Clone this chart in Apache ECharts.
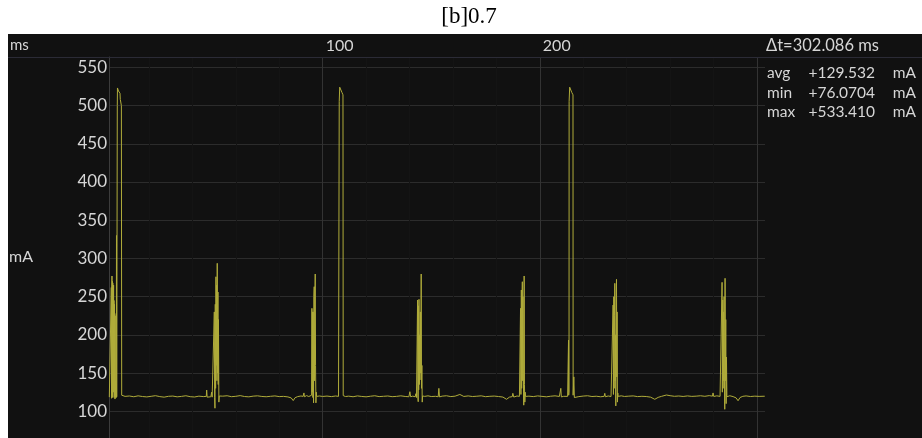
<!DOCTYPE html>
<html>
<head>
<meta charset="utf-8">
<script src="https://cdn.jsdelivr.net/npm/echarts@6/dist/echarts.min.js"></script>
<style>html,body{margin:0;padding:0;background:#fff}#c{width:922px;height:438px}</style>
</head>
<body>
<div id="c"></div>
<script>
// ---- data (time in ms, current in mA) ----
const burst0 = [[1.75,118.5],[2.29,117],[2.52,120],[2.66,262],[2.75,117],[2.84,250],[2.98,277],[3.08,122],[3.17,270],[3.26,118],[3.35,268],[3.44,150],[3.53,260],[3.62,125],[3.72,265],[3.81,130],[3.90,245],[3.99,118],[4.08,240],[4.17,121],[4.27,228],[4.36,116],[4.45,225],[4.55,118],[4.64,140],[4.73,120],[4.82,135],[4.95,118],[5.05,330],[5.15,119],[5.30,120],[5.42,500],[5.50,523],[5.97,519],[6.66,516],[6.80,508],[7.30,500],[7.45,121],[7.70,120]];
const base1 = [[9,119.5],[11,120],[13,119],[15,120.2],[17,119.3],[19,118.8],[21,119.6],[23,120.4],[25,119.2],[27,118.5],[29,119.6],[31,119.9],[33,118.9],[35,119.5],[37,120.3],[39,119.1],[41,118.7],[43,119.8],[45,119.2],[46.4,119.5],[46.58,127.8],[46.8,118.5],[47.5,119.5],[48.5,119],[48.88,125],[49.1,118.5],[49.6,120]];
const burst1 = [[49.94,121],[50.1,230],[50.25,118],[50.4,104],[50.55,240],[50.7,130],[50.86,276],[51.0,160],[51.18,265],[51.3,140],[51.45,293.6],[51.6,150],[51.78,256],[51.9,135],[52.01,220],[52.2,112],[52.38,120],[52.8,119]];
const base2 = [[54,119.8],[56,120.3],[58,119.1],[60,119.6],[62,120.5],[64,119.3],[66,118.9],[68,119.8],[70,120.2],[72,119.4],[74,119.0],[76,119.6],[78,120.1],[80,119.2],[82,119.5],[84,118.8],[85.5,117.5],[86.44,114],[87.3,117.8],[88.5,119.2],[90,120.0],[91.0,119.5],[91.37,124],[91.6,119],[92.6,120.5],[93.6,119.3],[94.4,120]];
const burst2 = [[94.91,121],[95.05,234.7],[95.19,125],[95.35,230],[95.5,118],[95.65,230],[95.8,111],[95.95,250],[96.11,263],[96.25,140],[96.4,240],[96.57,279.6],[96.72,160],[96.89,111],[97.05,125],[97.21,119.5]];
const base3 = [[98.5,120],[100,119.4],[102,119.9],[104,119.2],[106,120.0],[107.3,119.5]];
const pulse1 = [[107.55,120],[107.62,505],[107.85,524],[108.9,517],[109.35,514],[109.46,120.5]];
const base4 = [[110.5,119.3],[112,119.8],[114,119.0],[116,120.1],[118,119.4],[120,118.9],[122,119.7],[124,120.3],[126,119.2],[128,119.6],[130,120.0],[132,119.1],[134,119.5],[136,120.2],[138,119.4],[139.7,119],[140.16,125.6],[140.5,119],[141.5,119.8],[142.6,119],[142.92,123],[143.2,118],[143.5,119.5]];
const burst3 = [[143.71,245.6],[143.85,120],[144.0,112.5],[144.08,238],[144.22,128],[144.36,246.5],[144.5,135],[144.65,200],[144.8,141],[145.0,230],[145.2,150],[145.37,279.6],[145.5,130],[145.69,160],[145.85,112],[146.01,120]];
const base5 = [[147,119.5],[148.5,120.2],[150,119.3],[152,119.6],[153.2,119],[153.51,130],[153.8,118.8],[155,119.8],[157,120.3],[159,119.2],[161,119.8],[163.18,122],[165,119.4],[167,120.1],[169,119.3],[171,119.7],[173,120.2],[175,119.1],[177,119.6],[179,119.9],[181,119.3],[183,118.6],[184.68,115.7],[186,118.5],[187.3,119.2],[187.58,123.5],[188,118.6],[189.5,120],[190.6,119.5]];
const burst4 = [[190.9,121],[191.12,234.7],[191.3,122],[191.49,258.7],[191.65,130],[191.8,240],[191.95,269.5],[192.1,140],[192.25,250],[192.4,150],[192.6,108],[192.78,277],[192.92,135],[193.1,112],[193.25,125],[193.42,119.5]];
const base6 = [[195,119.8],[197,119.2],[199,120.1],[201,119.5],[203,118.9],[205,119.7],[207,120.2],[209,119.4],[209.4,119],[209.67,130],[209.9,118.8],[211,119.6],[212.8,119.5]];
const pulse2 = [[213.1,120],[213.22,193],[213.3,121],[213.45,125],[213.49,505],[213.75,524],[214.74,517],[215.28,514],[215.34,121],[215.66,145],[215.9,118],[216.5,119.6]];
const base7 = [[218,119.2],[220,119.9],[222,120.3],[224,119.3],[226,119.7],[228,119.0],[229.6,119.5],[229.93,123.5],[230.2,119],[231.5,120],[232.8,119.3],[233.4,121],[233.6,120]];
const burst5 = [[233.75,239],[233.9,122],[234.07,250],[234.22,130],[234.38,225],[234.53,267.4],[234.7,140],[234.85,200],[234.99,107],[235.15,250],[235.31,272.6],[235.45,145],[235.59,230],[235.75,112],[235.9,124],[236.05,119.5]];
const base8 = [[237.5,120.2],[239,119.4],[241,119.8],[243,120.1],[245,119.2],[247,119.6],[249,119.3],[251,118.5],[252.95,115.7],[254.5,118.2],[256,119.5],[258.33,121.3],[260,120.4],[262,119.6],[264,120.0],[266,119.4],[268,120.1],[270,119.5],[272,119.8],[274,120.3],[276,119.6],[278,120.5],[279.5,119.8],[279.78,124],[280.1,119.4],[281.5,120.2],[283,119.5],[283.6,121],[283.8,120]];
const burst6 = [[283.93,268.7],[284.05,125],[284.25,245.6],[284.4,130],[284.55,230],[284.71,140],[284.85,250],[285.0,150],[285.17,102.6],[285.31,274],[285.45,140],[285.63,220],[285.8,110],[285.95,171],[286.15,119]];
const base9 = [[287.5,120.3],[289,119.2],[290.4,117.5],[291.29,113.8],[292.2,118],[293.5,119.6],[295,120.1],[297,119.3],[299,119.8],[301,119.5],[303.58,119.7]];

const xTickLabels = [100, 200];
const yTickLabels = [100, 150, 200, 250, 300, 350, 400, 450, 500, 550];
const statNames = ['avg', 'min', 'max'];
const statValues = ['+129.532', '+76.0704', '+533.410'];
const statUnit = 'mA';
const deltaT = 'Δt=302.086 ms';
const titleText = '[b]0.7';

const trace = [].concat(burst0, base1, burst1, base2, burst2, base3, pulse1, base4, burst3,
  base5, burst4, base6, pulse2, base7, burst5, base8, burst6, base9);

const chart = echarts.init(document.getElementById('c'), null, {renderer: 'canvas'});
const font = 'Lato';
const txtColor = '#d6d6d6';

const graphics = [
  {type: 'rect', x: 8, y: 34, shape: {width: 914, height: 404}, style: {fill: '#111111'}, z: -100, silent: true},
  {type: 'line', shape: {x1: 8, y1: 57.5, x2: 922, y2: 57.5}, style: {stroke: '#2b2b36', lineWidth: 1}, z: 10, silent: true},
  {type: 'text', x: 469, y: 17, style: {text: titleText, font: '23px "Liberation Serif"', fill: '#000', align: 'center', verticalAlign: 'middle'}, z: 10},
  {type: 'text', x: 10, y: 45, style: {text: 'ms', font: '15px Lato', fill: txtColor, align: 'left', verticalAlign: 'middle'}, z: 10},
  {type: 'text', x: 766, y: 45.5, style: {text: deltaT, font: '16.5px Lato', fill: txtColor, align: 'left', verticalAlign: 'middle'}, z: 10}
];
statNames.forEach((n, i) => {
  const y = 73 + i * 19.5;
  graphics.push({type: 'text', x: 767, y: y, style: {text: n, font: '15.5px Lato', fill: txtColor, align: 'left', verticalAlign: 'middle'}, z: 10});
  graphics.push({type: 'text', x: 875, y: y, style: {text: statValues[i], font: '15.5px Lato', fill: txtColor, align: 'right', verticalAlign: 'middle'}, z: 10});
  graphics.push({type: 'text', x: 916, y: y, style: {text: statUnit, font: '15.5px Lato', fill: txtColor, align: 'right', verticalAlign: 'middle'}, z: 10});
});

chart.setOption({
  backgroundColor: '#ffffff',
  animation: false,
  grid: {left: 109, width: 656, top: 57, height: 392.5, containLabel: false, outerBoundsMode: 'none'},
  xAxis: {
    type: 'value', position: 'top', min: 1.6, max: 303.7, splitNumber: 3,
    axisLine: {show: false}, axisTick: {show: false},
    axisLabel: {
      formatter: v => xTickLabels.includes(v) ? String(v) : '',
      align: 'left', padding: [0, 0, 0, 3], margin: 3, color: txtColor,
      fontFamily: font, fontSize: 16, verticalAlign: 'bottom'
    },
    splitLine: {show: true, showMinLine: false, showMaxLine: false, lineStyle: {color: '#333333', width: 1}},
    minorTick: {show: false, splitNumber: 5},
    minorSplitLine: {show: true, lineStyle: {color: '#141414', width: 1}}
  },
  yAxis: {
    type: 'value', min: 50, max: 563.5, interval: 50,
    name: 'mA', nameLocation: 'middle', nameRotate: 0, nameGap: 76,
    nameTextStyle: {color: txtColor, fontFamily: font, fontSize: 16, verticalAlign: 'top', lineHeight: 8},
    axisLine: {show: true, lineStyle: {color: '#3c3c3c', width: 1}},
    axisTick: {show: false},
    axisLabel: {
      formatter: v => yTickLabels.includes(v) ? String(v) : '',
      color: txtColor, fontFamily: font, fontSize: 17, margin: 2
    },
    splitLine: {show: true, showMaxLine: false, lineStyle: {color: '#2c2c2c', width: 1}}
  },
  series: [{
    type: 'line', data: trace, showSymbol: false, symbol: 'none',
    lineStyle: {width: 1, color: '#b0ac3a'}, clip: true, z: 5
  }],
  graphic: graphics
});
</script>
</body>
</html>
